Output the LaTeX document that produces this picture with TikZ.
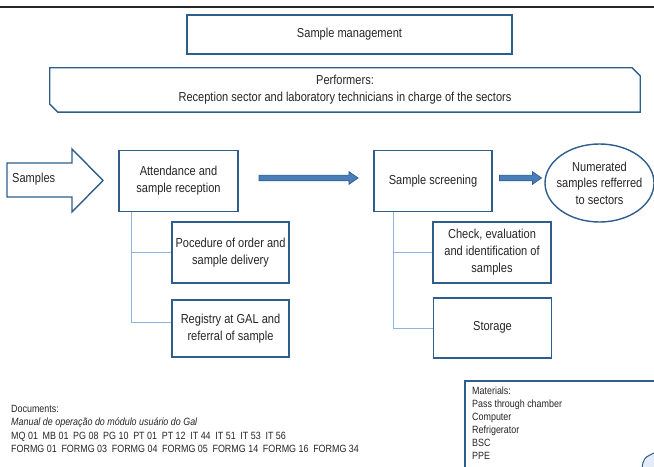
\documentclass[tikz,border=0pt]{standalone}
\usepackage{fontspec}
\setmainfont{Liberation Sans}[FakeStretch=0.85]
\usetikzlibrary{shapes.geometric,shapes.arrows,calc}
\definecolor{dkblue}{HTML}{2F5D8C}
\definecolor{midblue}{HTML}{4A7EBB}
\definecolor{ltblue}{HTML}{8FB3DE}
\definecolor{txt}{HTML}{262626}
\tikzset{
  boxline/.style={draw=dkblue, line width=1.4bp},
  stepbox/.style={boxline, fill=white, text=txt, align=center, inner sep=0pt,
    font=\fontsize{13bp}{17bp}\selectfont},
  plaintext/.style={text=txt, inner sep=0pt, font=\fontsize{13bp}{17bp}\selectfont},
  smalltext/.style={text=txt, inner sep=0pt, align=left, font=\fontsize{10.5bp}{13.5bp}\selectfont},
  conn/.style={draw=ltblue, line width=1bp},
  barrow/.style={single arrow, draw=dkblue, fill=midblue, line width=0.7bp,
    inner sep=2.5bp, single arrow head extend=3.5bp, single arrow tip angle=70},
}
\newcommand{\gap}{\hspace{0.45em}}
\begin{document}
\begin{tikzpicture}[x=1bp,y=-1bp]
\clip (0,0) rectangle (654,467);
\fill[white] (0,0) rectangle (654,467);
% top rule
\draw[line width=1.2bp, black!85] (0,7) -- (654,7);
% title
\node[stepbox, minimum width=325bp, minimum height=39bp] (sm) at (349.5,34.5) {Sample management};
% performers
\node[plaintext, align=center, minimum width=590bp, minimum height=44bp] (perf) at (345,90)
  {Performers:\\Reception sector and laboratory technicians in charge of the sectors};
\draw[boxline] (perf.north west) -- ($(perf.north east)+(-8,0)$) -- ($(perf.north east)+(0,8)$)
  -- (perf.south east) -- ($(perf.south west)+(8,0)$) -- ($(perf.south west)+(0,-8)$) -- cycle;
% samples arrow
\draw[boxline, fill=white] (7,163) -- (72,163) -- (72,149) -- (103,180.5) -- (72,212) -- (72,197) -- (7,197) -- cycle;
\node[plaintext, anchor=west] (samples) at (12,179) {Samples};
% main boxes
\node[stepbox, minimum width=119bp, minimum height=61bp] (att) at (178.5,181) {Attendance and\\sample reception};
\node[stepbox, minimum width=118bp, minimum height=61bp] (scr) at (433,181) {Sample screening};
\node[ellipse, boxline, fill=white, minimum width=109bp, minimum height=78bp] (num) at (599.5,183) {};
\node[plaintext, align=center, font=\fontsize{13bp}{16.5bp}\selectfont] (numtxt) at (num.center)
  {Numerated\\samples refferred\\to sectors};
% block arrows
\node[barrow, minimum height=99bp] (a1) at ($(att.east)!0.5!(scr.west)+(0.5,-3)$) {};
\node[barrow, minimum height=42bp] (a2) at ($(scr.east)!0.5!(num.west)+(0,-4)$) {};
% sub boxes
\node[stepbox, minimum width=117bp, minimum height=61bp] (proc) at (230.5,252.5) {Pocedure of order and\\sample delivery};
\node[stepbox, minimum width=117bp, minimum height=57bp] (reg) at (230.5,328.5) {Registry at GAL and\\referral of sample};
\node[stepbox, minimum width=118bp, minimum height=61bp] (chk) at (492,252.5) {Check, evaluation\\and identification of\\samples};
\node[stepbox, minimum width=118bp, minimum height=60bp] (sto) at (492.5,328) {\raisebox{4bp}{Storage}};
% connectors
\draw[conn] ($(att.south west)+(13,0)$) |- (proc.west);
\draw[conn] ($(att.south west)+(13,0)$) |- ($(reg.west)+(0,-6.5)$);
\draw[conn] ($(scr.south west)+(20,0)$) |- (chk.west);
\draw[conn] ($(scr.south west)+(20,0)$) |- (sto.west);
% documents
\node[smalltext, anchor=north west] (docs) at (11,405)
  {Documents:\\
   \textit{Manual de operação do módulo usuário do Gal}\\
   MQ 01\gap MB 01\gap PG 08\gap PG 10\gap PT 01\gap PT 12\gap IT 44\gap IT 51\gap IT 53\gap IT 56\\
   FORMG 01\gap FORMG 03\gap FORMG 04\gap FORMG 05\gap FORMG 14\gap FORMG 16\gap FORMG 34};
% materials
\node[smalltext, anchor=north west, font=\fontsize{10.5bp}{13bp}\selectfont] (mat) at (472,387)
  {Materials:\\Pass through chamber\\Computer\\Refrigerator\\BSC\\PPE};
\draw[boxline] (465,475) -- (465,381) -- (660,381);
\draw[draw=dkblue, line width=1bp, fill=ltblue!25] (642,468) .. controls (643,460) and (645,457) .. (650,455) -- (656,452) -- (656,468) -- cycle;
\end{tikzpicture}
\end{document}
